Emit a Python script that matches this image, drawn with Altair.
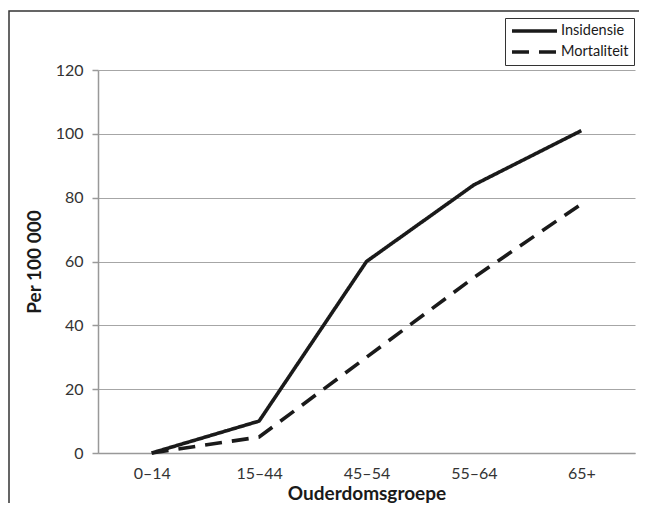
import altair as alt
import pandas as pd

categories = ["0–14", "15–44", "45–54", "55–64", "65+"]
insidensie = [0, 10, 60, 84, 101]
mortaliteit = [0, 5, 30, 55, 78]
series_names = ["Insidensie", "Mortaliteit"]

rows = []
for c, v in zip(categories, insidensie):
    rows.append({"groep": c, "waarde": v, "reeks": series_names[0]})
for c, v in zip(categories, mortaliteit):
    rows.append({"groep": c, "waarde": v, "reeks": series_names[1]})
df = pd.DataFrame(rows)

FONT = "Lato"
INK = "#1a1a1a"

lines = alt.Chart(df).mark_line(color=INK, strokeWidth=3.6, strokeCap="butt", strokeJoin="miter").encode(
    x=alt.X("groep:N", sort=categories, scale=alt.Scale(paddingInner=0, paddingOuter=0.5, align=0.5),
            axis=alt.Axis(title="Ouderdomsgroepe", labelAngle=0, ticks=False, labelPadding=12,
                          titlePadding=3, grid=False)),
    y=alt.Y("waarde:Q", scale=alt.Scale(domain=[0, 120], nice=False),
            axis=alt.Axis(title="Per 100 000", values=[0, 20, 40, 60, 80, 100, 120], tickSize=6,
                          labelPadding=9, titlePadding=11, grid=True)),
    strokeDash=alt.StrokeDash("reeks:N",
                              scale=alt.Scale(domain=series_names, range=[[1, 0], [17, 10]]),
                              legend=alt.Legend(title=None, orient="none", legendX=407, legendY=-52,
                                                symbolType="M-1,0H6.5", symbolSize=144,
                                                symbolStrokeWidth=3.6, symbolStrokeColor=INK,
                                                labelFontSize=14.5, labelFont=FONT, labelColor=INK,
                                                strokeColor="#333333", fillColor="white",
                                                padding=5, rowPadding=5, labelOffset=35)),
)

frame_df = pd.DataFrame({"k": [0]})
frame = alt.Chart(frame_df).mark_rect(filled=False, stroke="#333333", strokeWidth=1.5, clip=False).encode(
    x=alt.value(-89), x2=alt.value(600), y=alt.value(-59), y2=alt.value(480)
)

chart = alt.layer(frame, lines).properties(
    width=537, height=383,
    autosize=alt.AutoSizeParams(type="none"),
    padding={"left": 90, "top": 62, "right": 4, "bottom": 50},
).configure_view(stroke=None).configure_axis(
    labelFont=FONT, titleFont=FONT, labelFontSize=16, titleFontSize=19,
    labelColor="#333333", titleColor=INK, titleFontWeight="bold",
    domainColor="#999999", tickColor="#999999", gridColor="#a6a6a6",
    domainWidth=1.5, gridWidth=1.2, tickWidth=1.5,
)

chart.save("out.html", embed_options={"renderer": "svg", "actions": False})
